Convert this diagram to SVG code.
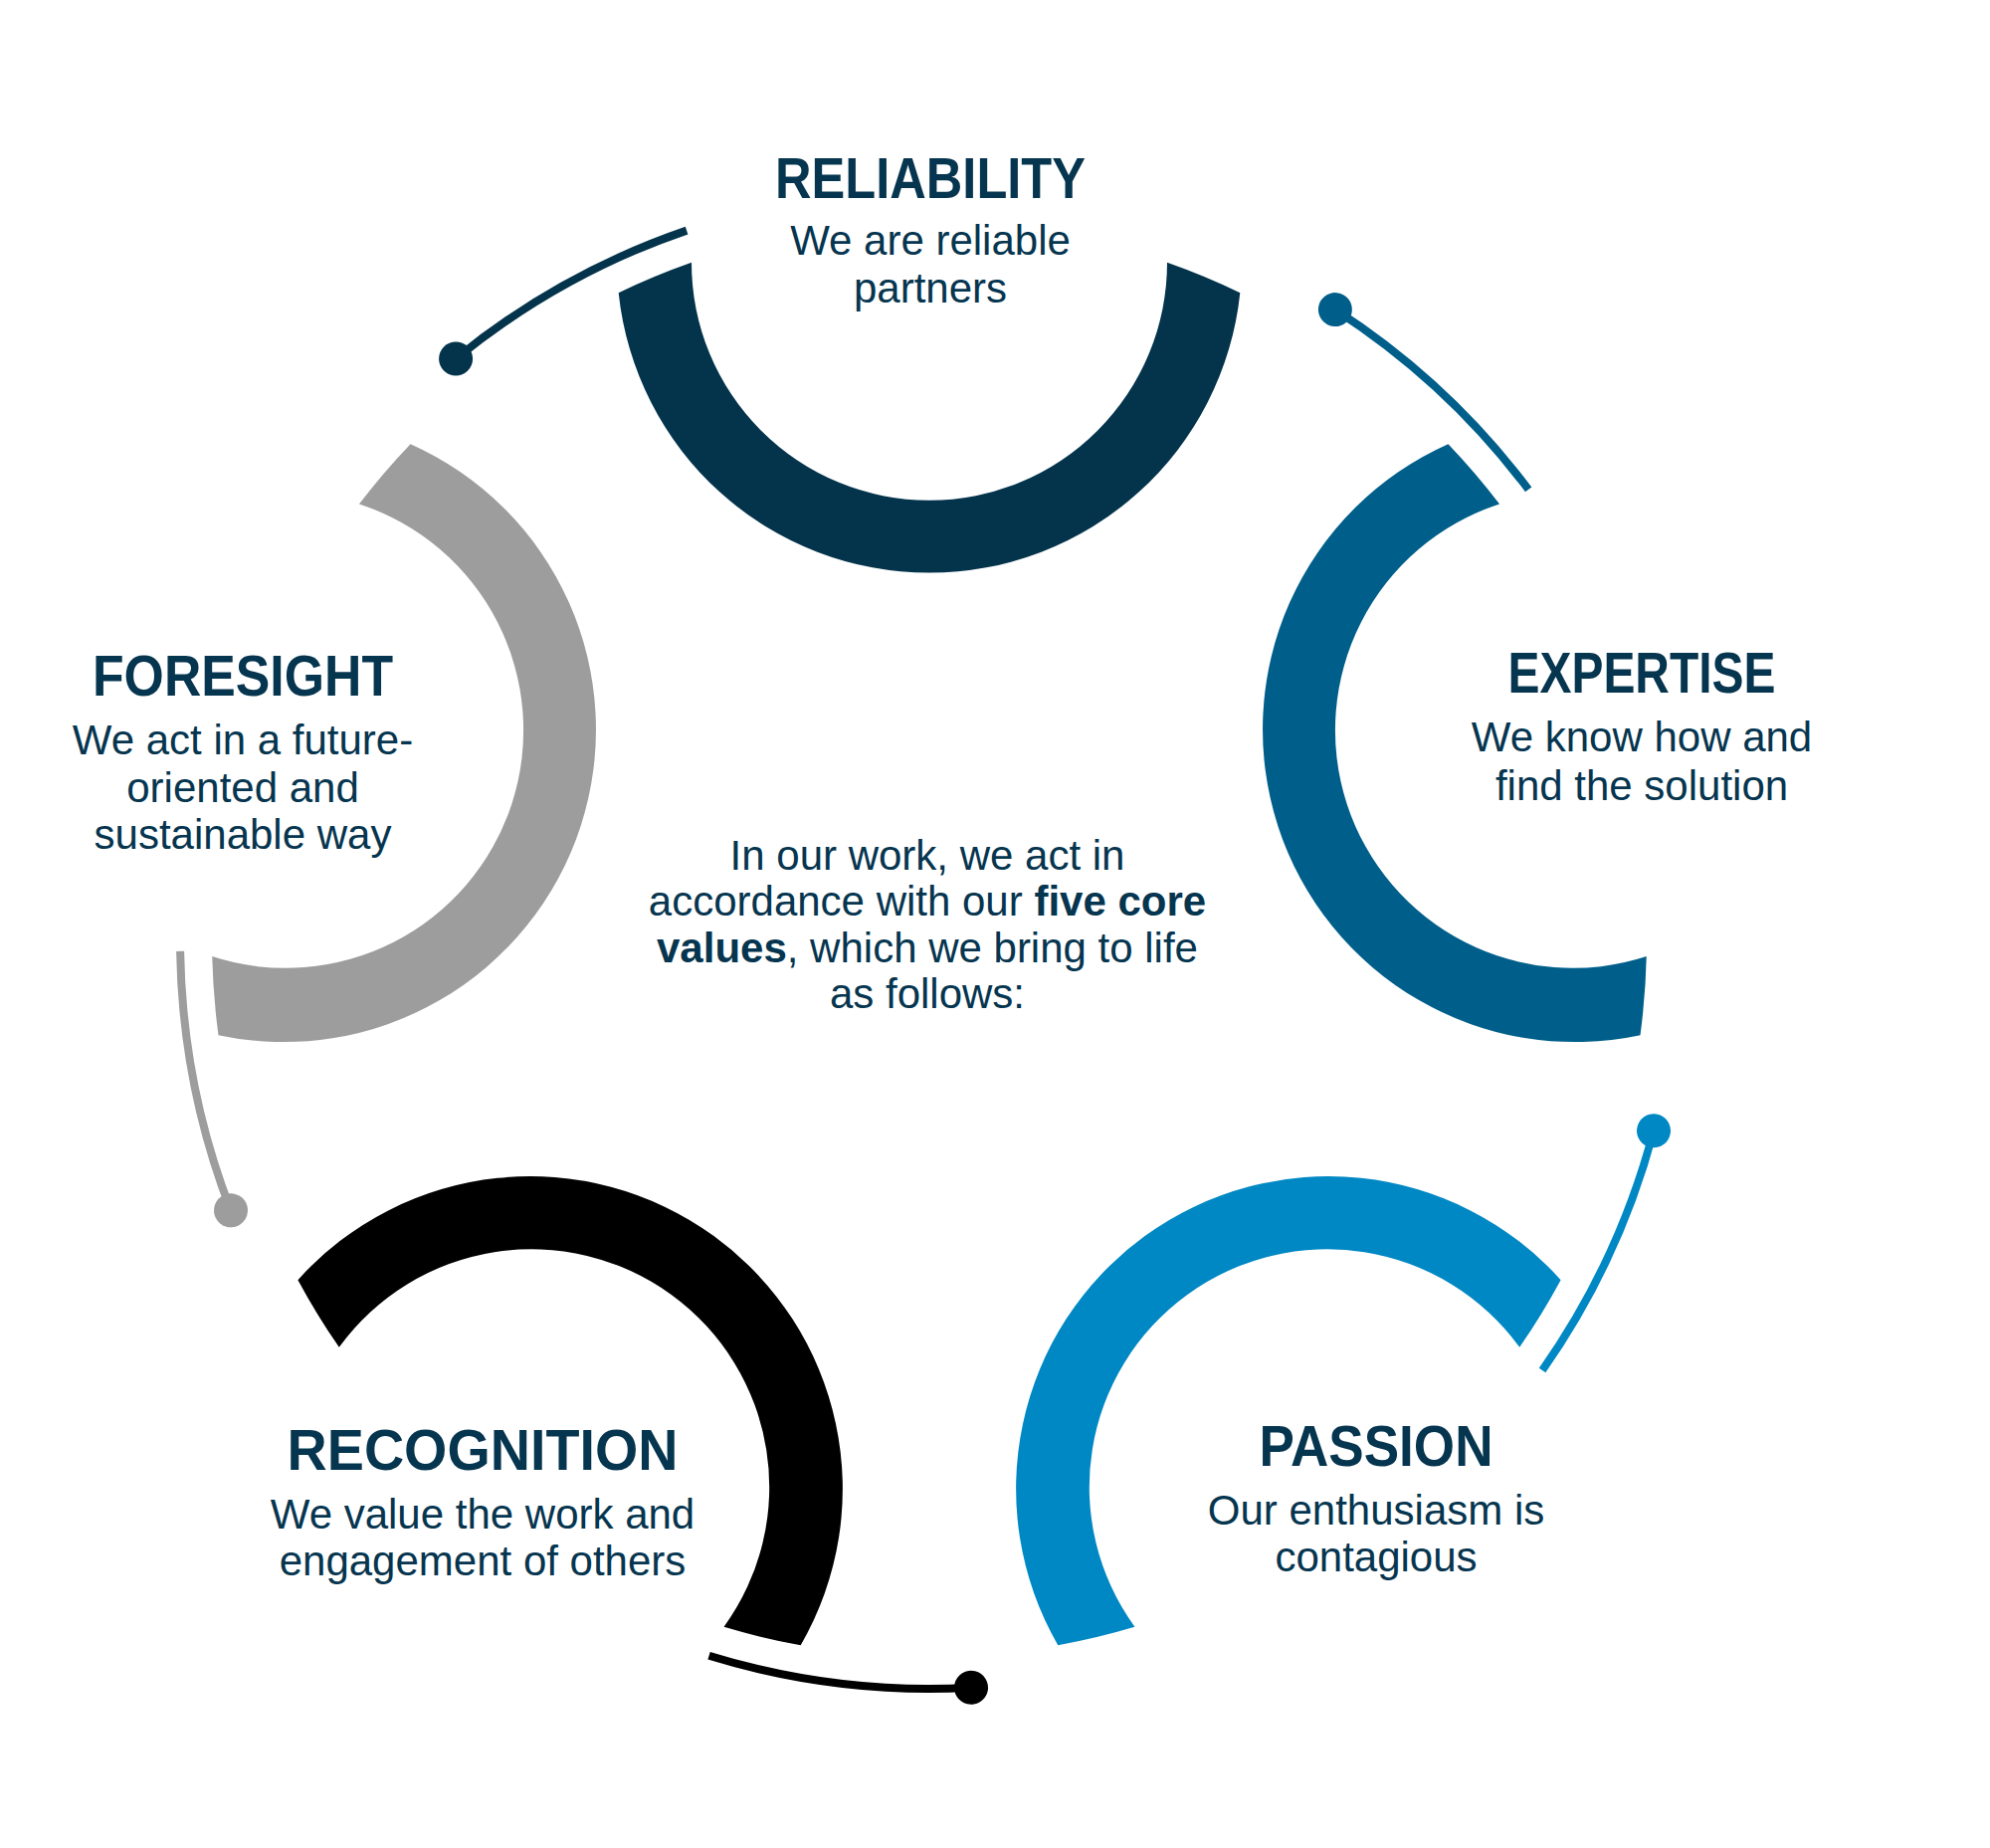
<svg xmlns="http://www.w3.org/2000/svg" width="2000" height="1857" viewBox="0 0 2000 1857">
<defs>
<style>
.t{font-family:"Liberation Sans",Arial,sans-serif;font-weight:bold;font-size:58px;fill:#06354f;text-anchor:middle;}
.s{font-family:"Liberation Sans",Arial,sans-serif;font-size:42px;fill:#06354f;text-anchor:middle;}
.b{font-weight:bold;}
.ln{fill:none;stroke-width:8;}
</style>
<path id="arc" d="M -312.3 -649.8 A 314 314 0 0 0 312.3 -649.8 A 721 721 0 0 0 239 -680.2 A 239 239 0 0 1 -239 -680.2 A 721 721 0 0 0 -312.3 -649.8 Z"/>
</defs>
<rect width="2000" height="1857" fill="#ffffff"/>
<g id="connectors">
<g transform="translate(934 944) rotate(0)"><path class="ln" stroke="#04344c" d="M -243.9 -712.4 A 753 753 0 0 0 -475.9 -583.5"/><circle cx="-475.9" cy="-583.5" r="17" fill="#04344c"/></g>
<g transform="translate(934 944) rotate(72)"><path class="ln" stroke="#005f8a" d="M -243.9 -712.4 A 753 753 0 0 0 -475.9 -583.5"/><circle cx="-475.9" cy="-583.5" r="17" fill="#005f8a"/></g>
<g transform="translate(934 944) rotate(144)"><path class="ln" stroke="#0088c4" d="M -243.9 -712.4 A 753 753 0 0 0 -475.9 -583.5"/><circle cx="-475.9" cy="-583.5" r="17" fill="#0088c4"/></g>
<g transform="translate(934 944) rotate(216)"><path class="ln" stroke="#000000" d="M -243.9 -712.4 A 753 753 0 0 0 -475.9 -583.5"/><circle cx="-475.9" cy="-583.5" r="17" fill="#000000"/></g>
<g transform="translate(934 944) rotate(288)"><path class="ln" stroke="#9d9d9d" d="M -243.9 -712.4 A 753 753 0 0 0 -475.9 -583.5"/><circle cx="-475.9" cy="-583.5" r="17" fill="#9d9d9d"/></g>
</g>
<g id="reliability">
<use href="#arc" transform="translate(934 944) rotate(0)" fill="#04344c"/>
<text class="t" x="935" y="199" textLength="312" lengthAdjust="spacingAndGlyphs">RELIABILITY</text>
<text class="s" x="935" y="256">We are reliable</text>
<text class="s" x="935" y="304">partners</text>
</g>
<g id="expertise">
<use href="#arc" transform="translate(934 944) rotate(72)" fill="#005f8a"/>
<text class="t" x="1650" y="696" textLength="269" lengthAdjust="spacingAndGlyphs">EXPERTISE</text>
<text class="s" x="1650" y="755">We know how and</text>
<text class="s" x="1650" y="804">find the solution</text>
</g>
<g id="passion">
<use href="#arc" transform="translate(934 944) rotate(144)" fill="#0088c4"/>
<text class="t" x="1383" y="1473" textLength="235" lengthAdjust="spacingAndGlyphs">PASSION</text>
<text class="s" x="1383" y="1532">Our enthusiasm is</text>
<text class="s" x="1383" y="1579">contagious</text>
</g>
<g id="recognition">
<use href="#arc" transform="translate(934 944) rotate(216)" fill="#000000"/>
<text class="t" x="485" y="1477" textLength="393" lengthAdjust="spacingAndGlyphs">RECOGNITION</text>
<text class="s" x="485" y="1536">We value the work and</text>
<text class="s" x="485" y="1583">engagement of others</text>
</g>
<g id="foresight">
<use href="#arc" transform="translate(934 944) rotate(288)" fill="#9d9d9d"/>
<text class="t" x="244" y="699" textLength="302" lengthAdjust="spacingAndGlyphs">FORESIGHT</text>
<text class="s" x="244" y="758">We act in a future-</text>
<text class="s" x="244" y="806">oriented and</text>
<text class="s" x="244" y="853">sustainable way</text>
</g>
<g id="intro">
<text class="s" x="932" y="874">In our work, we act in</text>
<text class="s" x="932" y="920">accordance with our <tspan class="b">five core</tspan></text>
<text class="s" x="932" y="967"><tspan class="b">values</tspan>, which we bring to life</text>
<text class="s" x="932" y="1013">as follows:</text>
</g>
</svg>
